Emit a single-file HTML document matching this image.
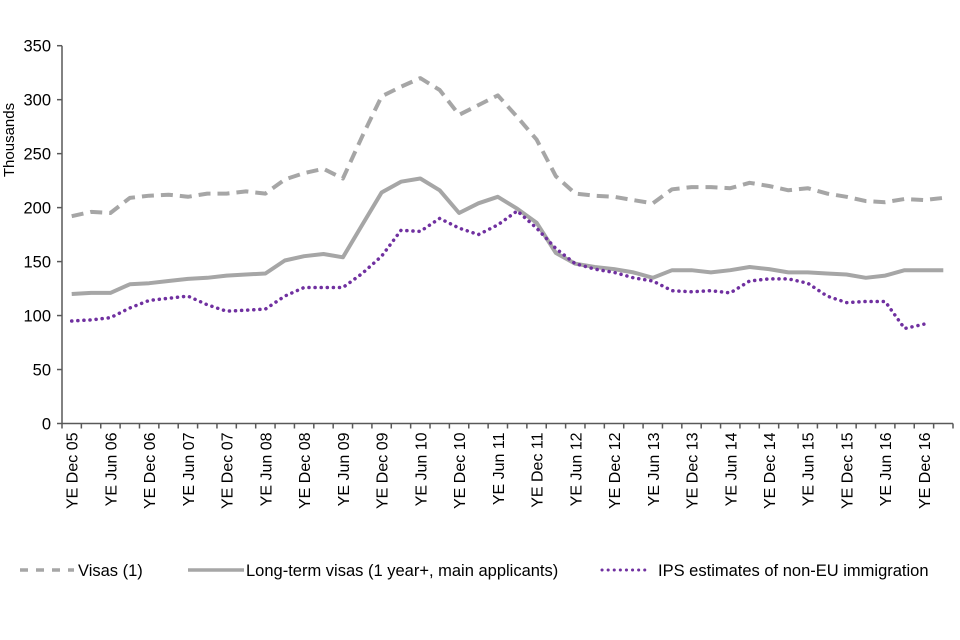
<!DOCTYPE html>
<html><head><meta charset="utf-8"><style>
body{margin:0;background:#fff;}
svg{display:block;font-family:"Liberation Sans",Arial,sans-serif;}
</style></head><body>
<svg id="chart" width="960" height="640" viewBox="0 0 960 640">
<g id="grid"></g>
<g id="series"></g>
<g id="axes"></g>
<text x="14" y="140" transform="rotate(-90 14 140)" text-anchor="middle" font-size="15" fill="#000">Thousands</text>
<g>
 <g>
  <line x1="20" y1="570" x2="74" y2="570" stroke="#a6a6a6" stroke-width="3.5" stroke-dasharray="8,8"/>
  <text x="78" y="576" font-size="16.5">Visas (1)</text>
 </g>
 <g>
  <line x1="188" y1="570" x2="244" y2="570" stroke="#a6a6a6" stroke-width="3.5"/>
  <text x="246" y="576" font-size="16.5">Long-term visas (1 year+, main applicants)</text>
 </g>
 <g>
  <line x1="602" y1="570" x2="650" y2="570" stroke="#7030a0" stroke-width="3" stroke-dasharray="0.1,6" stroke-linecap="round"/>
  <text x="658" y="576" font-size="16.5">IPS estimates of non-EU immigration</text>
 </g>
</g>
</svg>
<script>
const categories=["Dec 05","Mar 06","Jun 06","Sep 06","Dec 06","Mar 07","Jun 07","Sep 07","Dec 07","Mar 08","Jun 08","Sep 08","Dec 08","Mar 09","Jun 09","Sep 09","Dec 09","Mar 10","Jun 10","Sep 10","Dec 10","Mar 11","Jun 11","Sep 11","Dec 11","Mar 12","Jun 12","Sep 12","Dec 12","Mar 13","Jun 13","Sep 13","Dec 13","Mar 14","Jun 14","Sep 14","Dec 14","Mar 15","Jun 15","Sep 15","Dec 15","Mar 16","Jun 16","Sep 16","Dec 16","Mar 17"];
const visas=[192,196,195,209,211,212,210,213,213,215,213,226,232,236,227,266,303,312,320,309,286,295,304,284,263,229,213,211,210,207,204,217,219,219,218,223,220,216,218,213,210,206,205,208,207,209];
const longTerm=[120,121,121,129,130,132,134,135,137,138,139,151,155,157,154,184,214,224,227,216,195,204,210,199,186,158,148,145,143,140,135,142,142,140,142,145,143,140,140,139,138,135,137,142,142,142];
const ips=[95,96,98,107,114,116,118,110,104,105,106,118,126,126,126,139,155,179,178,190,181,175,184,197,181,162,148,143,140,135,132,123,122,123,121,132,134,134,130,118,112,113,113,88,92];
const yTicks=[0,50,100,150,200,250,300,350];
const NS="http://www.w3.org/2000/svg";
const x0=62,x1=953,y0=423.5,yTop=45.7,yMax=350;
const step=(x1-x0)/categories.length;
const xPos=i=>x0+(i+0.5)*step;
const yPos=v=>y0-(v/yMax)*(y0-yTop);
function mk(tag,attrs,parent){const e=document.createElementNS(NS,tag);for(const k in attrs)e.setAttribute(k,attrs[k]);parent.appendChild(e);return e;}
const axes=document.getElementById('axes'),series=document.getElementById('series');
let a=mk('line',{x1:x0,y1:yTop,x2:x0,y2:y0,stroke:'#595959','stroke-width':1.5},axes);


a=mk('line',{x1:x0,y1:y0,x2:x1,y2:y0,stroke:'#595959','stroke-width':1.5},axes);


yTicks.forEach(v=>{
 const y=yPos(v);
 mk('line',{x1:x0-5,y1:y,x2:x0,y2:y,stroke:'#595959','stroke-width':1.5},axes);
 const t=mk('text',{x:x0-11,y:y+6,'text-anchor':'end','font-size':16.5,fill:'#000'},axes);
 t.textContent=v;
 
 
});
for(let i=0;i<=categories.length;i++){
 const x=x0+i*step;
 mk('line',{x1:x,y1:y0,x2:x,y2:y0+5,stroke:'#595959','stroke-width':1.5},axes);
}
categories.forEach((c,i)=>{
 if(i%2)return;
 const x=xPos(i)+6,y=y0+9;
 const t=mk('text',{x:x,y:y,transform:`rotate(-90 ${x} ${y})`,'text-anchor':'end','font-size':16,fill:'#000'},axes);
 t.textContent='YE '+c;
 
 
});
function line(vals,attrs,name){
 const d=vals.map((v,i)=>(i?'L':'M')+xPos(i).toFixed(1)+','+yPos(v).toFixed(1)).join('');
 const p=mk('path',Object.assign({d:d,fill:'none','stroke-linejoin':'round'},attrs),series);
 
 
}
line(visas,{stroke:'#a6a6a6','stroke-width':4,'stroke-dasharray':'12,7'},'visas-line');
line(longTerm,{stroke:'#a6a6a6','stroke-width':4},'long-term-visas-line');
line(ips,{stroke:'#7030a0','stroke-width':3.5,'stroke-dasharray':'0.1,6','stroke-linecap':'round'},'ips-line');
</script>
</body></html>
